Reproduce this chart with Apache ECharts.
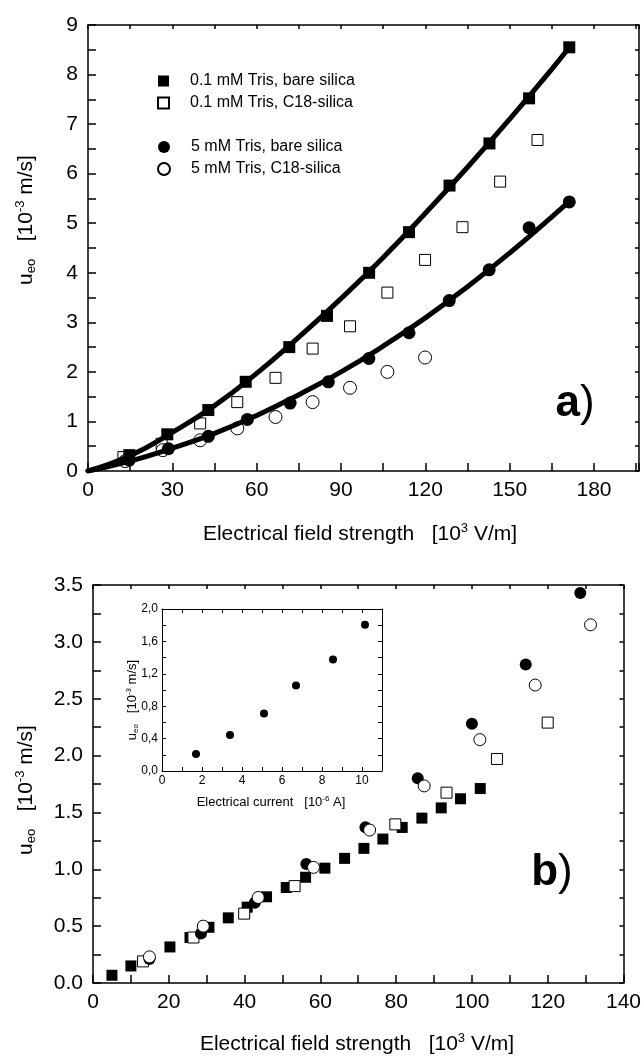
<!DOCTYPE html>
<html><head><meta charset="utf-8">
<script src="https://cdn.jsdelivr.net/npm/echarts@6/dist/echarts.min.js"></script>
<style>html,body{margin:0;padding:0;background:#fff}#c{width:644px;height:1059px}</style>
</head><body><div id="c"></div>
<script>
// ---------- Panel a) ----------
const aSqFilledX = [14.7, 28.2, 42.8, 56.1, 71.6, 85.0, 100.0, 114.2, 128.6, 142.8, 156.9, 171.2];
const aSqFilledY = [0.32, 0.74, 1.23, 1.80, 2.50, 3.13, 4.00, 4.82, 5.76, 6.61, 7.52, 8.55];
const aSqOpenX = [12.6, 26.2, 39.9, 53.1, 66.7, 79.9, 93.2, 106.5, 119.9, 133.2, 146.6, 159.9];
const aSqOpenY = [0.28, 0.55, 0.96, 1.39, 1.88, 2.47, 2.92, 3.60, 4.26, 4.92, 5.84, 6.68];
const aCirFilledX = [14.7, 28.6, 42.8, 56.7, 71.9, 85.5, 99.9, 114.2, 128.5, 142.7, 156.9, 171.2];
const aCirFilledY = [0.22, 0.45, 0.70, 1.04, 1.37, 1.80, 2.27, 2.79, 3.44, 4.06, 4.91, 5.43];
const aCirOpenX = [13.2, 26.6, 39.9, 53.1, 66.7, 79.9, 93.2, 106.5, 119.9];
const aCirOpenY = [0.20, 0.42, 0.62, 0.86, 1.09, 1.39, 1.68, 2.00, 2.29];
// fitted curves
const aFitX = [0, 15, 30, 45, 60, 75, 90, 105, 120, 135, 150, 165, 171.2];
const aFitUpperY = [0, 0.31, 0.78, 1.32, 1.97, 2.70, 3.48, 4.31, 5.20, 6.13, 7.10, 8.11, 8.55];
const aFitLowerY = [0, 0.20, 0.46, 0.76, 1.12, 1.54, 2.00, 2.52, 3.09, 3.72, 4.40, 5.13, 5.44];
const legendNames = ['0.1 mM Tris, bare silica', '0.1 mM Tris, C18-silica', '5 mM Tris, bare silica', '5 mM Tris, C18-silica'];

// ---------- Panel b) ----------
const bSqFilledX = [5.0, 10.0, 20.3, 25.6, 30.6, 35.7, 40.7, 45.8, 51.0, 56.1, 61.2, 66.4, 71.5, 76.5, 81.6, 86.8, 91.9, 97.0, 102.2];
const bSqFilledY = [0.068, 0.15, 0.317, 0.40, 0.49, 0.573, 0.667, 0.758, 0.84, 0.93, 1.01, 1.096, 1.184, 1.266, 1.368, 1.45, 1.54, 1.62, 1.71];
const bSqOpenX = [13.2, 26.5, 39.9, 53.2, 79.8, 93.3, 106.6, 120.0];
const bSqOpenY = [0.19, 0.40, 0.61, 0.852, 1.395, 1.674, 1.97, 2.29];
const bCirFilledX = [14.9, 28.5, 42.7, 56.3, 71.9, 85.7, 100.0, 114.2, 128.6];
const bCirFilledY = [0.21, 0.435, 0.705, 1.046, 1.37, 1.80, 2.28, 2.80, 3.43];
const bCirOpenX = [14.9, 29.1, 43.6, 58.2, 73.0, 87.4, 102.1, 116.7, 131.3];
const bCirOpenY = [0.23, 0.50, 0.752, 1.017, 1.345, 1.733, 2.14, 2.62, 3.15];

// ---------- Inset ----------
const insetX = [1.7, 3.4, 5.1, 6.7, 8.55, 10.15];
const insetY = [0.21, 0.445, 0.71, 1.055, 1.377, 1.806];

const zip = (xs, ys) => xs.map((x, i) => [x, ys[i]]);
const FONT = '"Liberation Sans", Arial, Helvetica, sans-serif';
const near = (v, step) => Math.abs(v / step - Math.round(v / step)) < 1e-6;

function axisPair(kind, grid, min, max, interval, labelStep, fmt, opt) {
  const base = {
    type: 'value', gridIndex: grid, min: min, max: max, interval: interval, z: opt.z || 0,
    splitLine: { show: false },
    axisLine: { show: true, onZero: false, lineStyle: { color: '#000', width: opt.lw } },
  };
  const main = Object.assign({}, base, {
    position: kind === 'x' ? 'bottom' : 'left',
    axisTick: { show: true, inside: true, length: opt.tick, lineStyle: { color: '#000', width: opt.lw } },
    axisLabel: {
      show: true, color: '#000', fontSize: opt.fs, fontFamily: FONT, margin: opt.margin,
      showMinLabel: true, showMaxLabel: true,
      formatter: v => (near(v, labelStep) && v <= max + 1e-9) ? fmt(v) : ''
    }
  });
  const mirror = Object.assign({}, base, {
    position: kind === 'x' ? 'top' : 'right',
    axisTick: { show: true, inside: true, length: opt.mtick, lineStyle: { color: '#000', width: opt.lw } },
    axisLabel: { show: false }
  });
  return [main, mirror];
}

const mainOpt = { lw: 1.5, tick: 8, mtick: 4, fs: 21, margin: 9 };
const insetOpt = { lw: 1, tick: 4, mtick: 4, fs: 12, margin: 4, z: 5 };

const xAxes = [].concat(
  axisPair('x', 0, 0, 196, 15, 30, v => String(Math.round(v)), mainOpt),
  axisPair('x', 1, 0, 140, 10, 20, v => String(Math.round(v)), mainOpt),
  axisPair('x', 2, 0, 11, 1, 2, v => String(Math.round(v)), insetOpt)
);
const yAxes = [].concat(
  axisPair('y', 0, 0, 9, 0.5, 1, v => String(Math.round(v)), Object.assign({}, mainOpt, { margin: 10 })),
  axisPair('y', 1, 0, 3.5, 0.25, 0.5, v => v.toFixed(1), Object.assign({}, mainOpt, { margin: 10 })),
  axisPair('y', 2, 0, 2.0, 0.2, 0.4, v => v.toFixed(1).replace('.', ','), insetOpt)
);

const openStyle = { color: '#fff', borderColor: '#000', borderWidth: 1, opacity: 1 };
const fillStyle = { color: '#000', opacity: 1 };

function sc(name, xi, yi, data, symbol, size, style, z) {
  return { type: 'scatter', name: name, xAxisIndex: xi, yAxisIndex: yi, data: data,
    symbol: symbol, symbolSize: size, itemStyle: style, z: z, animation: false, silent: true };
}
function fit(name, xs, ys) {
  return { type: 'line', name: name, xAxisIndex: 0, yAxisIndex: 0, data: zip(xs, ys), smooth: 0.5,
    showSymbol: false, symbol: 'none', lineStyle: { color: '#000', width: 5, join: 'round', cap: 'round' },
    z: 3, animation: false, silent: true };
}

const series = [
  sc(legendNames[1], 0, 0, zip(aSqOpenX, aSqOpenY), 'rect', 11, openStyle, 2),
  sc(legendNames[3], 0, 0, zip(aCirOpenX, aCirOpenY), 'circle', 13, openStyle, 2),
  fit('fitUpper', aFitX, aFitUpperY),
  fit('fitLower', aFitX, aFitLowerY),
  sc(legendNames[0], 0, 0, zip(aSqFilledX, aSqFilledY), 'rect', 12, fillStyle, 4),
  sc(legendNames[2], 0, 0, zip(aCirFilledX, aCirFilledY), 'circle', 13, fillStyle, 4),

  sc('b sq filled', 2, 2, zip(bSqFilledX, bSqFilledY), 'rect', 11, fillStyle, 2),
  sc('b sq open', 2, 2, zip(bSqOpenX, bSqOpenY), 'rect', 11, openStyle, 3),
  sc('b cir filled', 2, 2, zip(bCirFilledX, bCirFilledY), 'circle', 12, fillStyle, 4),
  sc('b cir open', 2, 2, zip(bCirOpenX, bCirOpenY), 'circle', 12, openStyle, 5),

  sc('inset', 4, 4, zip(insetX, insetY), 'circle', 8, fillStyle, 6)
];

const supRich = (fs, sfs) => ({
  n: { fontSize: fs, fontFamily: FONT, color: '#000', lineHeight: Math.round(fs * 1.15) },
  sup: { fontSize: sfs, fontFamily: FONT, color: '#000', lineHeight: sfs, verticalAlign: 'top' },
  sub: { fontSize: sfs, fontFamily: FONT, color: '#000', lineHeight: sfs, verticalAlign: 'bottom' }
});
function label(x, y, text, fs, sfs, rot) {
  return { type: 'text', x: x, y: y, rotation: rot || 0, z: 10, silent: true,
    style: { text: text, rich: supRich(fs, sfs), align: 'center', verticalAlign: 'middle', fill: '#000' } };
}
const legendText = { fontSize: 16, fontFamily: FONT, color: '#000', padding: [0, 0, 0, 16] };

const option = {
  backgroundColor: '#fff',
  animation: false,
  grid: [
    { left: 88, top: 25, width: 551, height: 446 },
    { left: 93, top: 585, width: 532, height: 398 },
    { left: 162, top: 609, width: 220, height: 162 }
  ],
  xAxis: xAxes,
  yAxis: yAxes,
  legend: [
    { data: [legendNames[0], legendNames[1]], orient: 'vertical', left: 152, top: 68, itemWidth: 11, itemHeight: 11,
      itemGap: 6, selectedMode: false, textStyle: legendText },
    { data: [legendNames[2], legendNames[3]], orient: 'vertical', left: 152, top: 134, itemWidth: 12, itemHeight: 12,
      itemGap: 6, selectedMode: false, textStyle: legendText }
  ],
  series: series,
  graphic: [
    label(360, 534, '{n|Electrical field strength   [10}{sup|3}{n| V/m]}', 21, 13),
    label(357, 1044, '{n|Electrical field strength   [10}{sup|3}{n| V/m]}', 21, 13),
    label(26, 220, '{n|u}{sub|eo}{n|   [10}{sup|-3}{n| m/s]}', 21, 13, Math.PI / 2),
    label(26, 790, '{n|u}{sub|eo}{n|   [10}{sup|-3}{n| m/s]}', 21, 13, Math.PI / 2),
    label(271, 802, '{n|Electrical current   [10}{sup|-6}{n| A]}', 13, 8),
    label(132, 700, '{n|u}{sub|eo}{n|   [10}{sup|-3}{n| m/s]}', 13, 8, Math.PI / 2),
    { type: 'text', x: 575, y: 404, z: 10, silent: true,
      style: { text: '{b|a}{p|)}', align: 'center', verticalAlign: 'middle',
        rich: { b: { fontSize: 44, fontWeight: 'bold', fontFamily: FONT, color: '#000' },
                p: { fontSize: 44, fontFamily: FONT, color: '#000' } } } },
    { type: 'text', x: 552, y: 873, z: 10, silent: true,
      style: { text: '{b|b}{p|)}', align: 'center', verticalAlign: 'middle',
        rich: { b: { fontSize: 44, fontWeight: 'bold', fontFamily: FONT, color: '#000' },
                p: { fontSize: 44, fontFamily: FONT, color: '#000' } } } }
  ]
};

const chart = echarts.init(document.getElementById('c'), null, { renderer: 'canvas', width: 644, height: 1059 });
chart.setOption(option);
</script>
</body></html>
